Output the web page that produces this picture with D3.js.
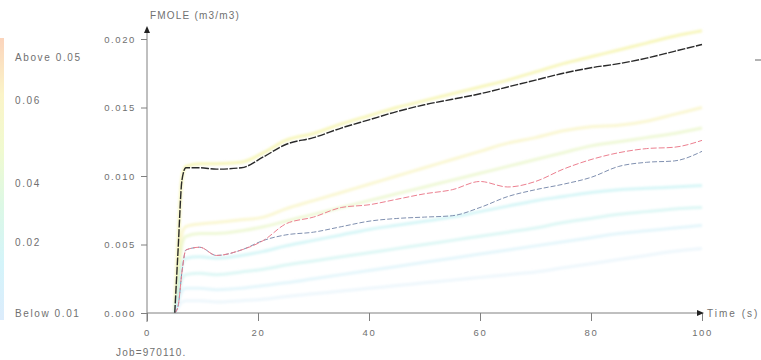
<!DOCTYPE html>
<html>
<head>
<meta charset="utf-8">
<script src="https://cdn.jsdelivr.net/npm/d3@7"></script>
<style>
  body { margin: 0; background: #fff; }
  text { font-family: "Liberation Sans", Arial, sans-serif; fill: #707070; }
</style>
</head>
<body>
<div id="d3-container"></div>
<script>
/* CONSTANTS AND GLOBALS */
const width = 761,
  height = 360,
  margin = { top: 30, bottom: 47, left: 147, right: 59 }

/* DATA */
const times = [5, 5.6, 6.3, 7, 9.5, 12.5, 17, 21, 25, 30, 35, 40, 45, 50, 55, 60, 65, 70, 75, 80, 85, 90, 95, 100];

const fmoleBlack = [0, 0.0046, 0.0097, 0.0106, 0.0106, 0.0105, 0.0106, 0.0114, 0.0123, 0.0128, 0.0135, 0.0141, 0.0147, 0.0152, 0.0156, 0.0160, 0.0165, 0.0170, 0.0175, 0.0179, 0.0182, 0.0186, 0.0191, 0.0196];
const fmoleRed = [0, 0.0005, 0.0030, 0.0046, 0.0048, 0.0042, 0.0046, 0.0053, 0.0065, 0.0070, 0.0077, 0.0079, 0.0083, 0.0087, 0.0090, 0.0096, 0.0092, 0.0096, 0.0105, 0.0112, 0.0117, 0.0120, 0.0121, 0.0126];
const fmoleBlue = [0, 0.0005, 0.0030, 0.0046, 0.0048, 0.0042, 0.0046, 0.0053, 0.0057, 0.0059, 0.0063, 0.0067, 0.0069, 0.0070, 0.0071, 0.0077, 0.0085, 0.0090, 0.0094, 0.0099, 0.0107, 0.0110, 0.0111, 0.0118];

// faint series
const fmoleYellowA = [0, 0.0050, 0.0098, 0.0107, 0.0109, 0.0109, 0.0110, 0.0117, 0.0126, 0.0131, 0.0138, 0.0144, 0.0150, 0.0155, 0.0160, 0.0165, 0.0170, 0.0176, 0.0182, 0.0187, 0.0192, 0.0197, 0.0202, 0.0206];
const fmoleYellowB = [0, 0.0030, 0.0058, 0.0063, 0.0065, 0.0066, 0.0068, 0.0070, 0.0076, 0.0082, 0.0088, 0.0094, 0.0100, 0.0106, 0.0112, 0.0118, 0.0124, 0.0128, 0.0133, 0.0136, 0.0137, 0.0140, 0.0145, 0.0150];
const fmoleGreen = [0, 0.0020, 0.0050, 0.0056, 0.0058, 0.0058, 0.0060, 0.0063, 0.0067, 0.0072, 0.0077, 0.0082, 0.0087, 0.0092, 0.0097, 0.0102, 0.0107, 0.0112, 0.0117, 0.0122, 0.0125, 0.0128, 0.0131, 0.0135];
const fmoleCyanA = [0, 0.0015, 0.0035, 0.0040, 0.0041, 0.0040, 0.0042, 0.0045, 0.0049, 0.0053, 0.0057, 0.0061, 0.0064, 0.0067, 0.0070, 0.0074, 0.0078, 0.0082, 0.0085, 0.0088, 0.0090, 0.0091, 0.0092, 0.0093];
const fmoleCyanB = [0, 0.0010, 0.0025, 0.0028, 0.0029, 0.0028, 0.0030, 0.0032, 0.0035, 0.0038, 0.0041, 0.0044, 0.0047, 0.0050, 0.0053, 0.0056, 0.0059, 0.0062, 0.0066, 0.0069, 0.0072, 0.0074, 0.0076, 0.0077];
const fmoleSkyA = [0, 0.0008, 0.0016, 0.0018, 0.0018, 0.0017, 0.0018, 0.0020, 0.0022, 0.0025, 0.0028, 0.0031, 0.0034, 0.0037, 0.0040, 0.0043, 0.0046, 0.0049, 0.0052, 0.0055, 0.0058, 0.0060, 0.0062, 0.0064];
const fmoleSkyB = [0, 0.0004, 0.0008, 0.0009, 0.0009, 0.0008, 0.0009, 0.0010, 0.0012, 0.0014, 0.0016, 0.0018, 0.0020, 0.0022, 0.0024, 0.0026, 0.0028, 0.0030, 0.0033, 0.0036, 0.0039, 0.0042, 0.0045, 0.0047];

const xTicks = [0, 20, 40, 60, 80, 100];
const yTicks = [0, 0.005, 0.010, 0.015, 0.020];
const legendLabels = ["Above 0.05", "0.06", "0.04", "0.02", "Below 0.01"];
const legendPos = [57, 100, 183, 242, 313];
const barColors = ["#fbd4bc", "#fbf4c8", "#f0fad0", "#dcf8e6", "#d4f4fa", "#dcecfc"];

/* INIT */
const svg = d3.select("#d3-container")
  .append("svg")
  .attr("width", width)
  .attr("height", height);

const x = d3.scaleLinear().domain([0, 100]).range([margin.left, 702]);
const y = d3.scaleLinear().domain([0, 0.020]).range([313, 39]);

// soft blur so the faint lines smear like the scan
const defs = svg.append("defs");
defs.append("filter").attr("id", "soft")
  .attr("x", "-5%").attr("y", "-5%").attr("width", "110%").attr("height", "110%")
  .append("feGaussianBlur").attr("stdDeviation", 1);

const grad = defs.append("linearGradient").attr("id", "bar")
  .attr("x1", 0).attr("y1", 0).attr("x2", 0).attr("y2", 1);
grad.selectAll("stop").data(barColors).join("stop")
  .attr("offset", (d, i) => i / (barColors.length - 1))
  .attr("stop-color", d => d);

// left colour bar
svg.append("rect")
  .attr("x", 0).attr("y", 38).attr("width", 4).attr("height", 282)
  .attr("fill", "url(#bar)");

// legend labels
svg.selectAll("text.legend")
  .data(legendLabels)
  .join("text")
  .attr("class", "legend")
  .attr("x", 15)
  .attr("y", (d, i) => legendPos[i] + 4)
  .attr("font-size", 10)
  .attr("letter-spacing", 1.6)
  .text(d => d);

const line = d3.line()
  .x((d, i) => x(times[i]))
  .y(d => y(d))
  .curve(d3.curveMonotoneX);

const faint = [
  { v: fmoleYellowA, c: "#f2f090", w: 3 },
  { v: fmoleYellowB, c: "#f6f2b4", w: 3 },
  { v: fmoleGreen, c: "#e4f4bc", w: 3 },
  { v: fmoleCyanA, c: "#bcf0f2", w: 3 },
  { v: fmoleCyanB, c: "#c6f2ee", w: 3 },
  { v: fmoleSkyA, c: "#d2f0f8", w: 3 },
  { v: fmoleSkyB, c: "#e2f2fa", w: 3 }
];

svg.append("g").attr("filter", "url(#soft)")
  .selectAll("path")
  .data(faint)
  .join("path")
  .attr("d", d => line(d.v))
  .attr("fill", "none")
  .attr("stroke", d => d.c)
  .attr("stroke-width", d => d.w)
  .attr("opacity", 0.6);

svg.append("path")
  .attr("d", line(fmoleBlue))
  .attr("fill", "none")
  .attr("stroke", "#8090b0")
  .attr("stroke-width", 1)
  .attr("stroke-dasharray", "5,2");

svg.append("path")
  .attr("d", line(fmoleRed))
  .attr("fill", "none")
  .attr("stroke", "#ec8090")
  .attr("stroke-width", 1)
  .attr("stroke-dasharray", "6,2");

svg.append("path")
  .attr("d", line(fmoleBlack))
  .attr("fill", "none")
  .attr("stroke", "#2a2a2a")
  .attr("stroke-width", 1.4)
  .attr("stroke-dasharray", "8,1.5");

// axes
const axisColor = "#808080";
const gx = svg.append("g").attr("transform", `translate(0,313)`)
  .call(d3.axisBottom(x).tickValues(xTicks).tickSize(8).tickPadding(8).tickFormat(d3.format("d")));
const gy = svg.append("g").attr("transform", `translate(${margin.left},0)`)
  .call(d3.axisLeft(y).tickValues(yTicks).tickSize(6).tickPadding(5).tickFormat(d3.format(".3f")));

[gx, gy].forEach(g => {
  g.select(".domain").remove();
  g.selectAll("line").attr("stroke", axisColor);
  g.selectAll("text").attr("font-size", 9.5).attr("letter-spacing", 1.6)
    .attr("fill", "#707070").style("font-family", "'Liberation Sans', Arial, sans-serif");
});

// axis lines with arrowheads
svg.append("line").attr("x1", margin.left).attr("x2", margin.left)
  .attr("y1", 322).attr("y2", 30).attr("stroke", axisColor);
svg.append("line").attr("x1", margin.left).attr("x2", 700)
  .attr("y1", 313).attr("y2", 313).attr("stroke", axisColor);
svg.append("path")
  .attr("d", `M${margin.left - 3},33 L${margin.left},26 L${margin.left + 3},33 Z`)
  .attr("fill", "#222");
svg.append("path")
  .attr("d", `M697,310 L704,313 L697,316 Z`)
  .attr("fill", "#222");

svg.append("text").attr("x", 150).attr("y", 19)
  .attr("font-size", 10).attr("letter-spacing", 1.2)
  .text("FMOLE (m3/m3)");
svg.append("text").attr("x", 707).attr("y", 317)
  .attr("font-size", 10).attr("letter-spacing", 2)
  .text("Time (s)");
svg.append("text").attr("x", 116).attr("y", 356)
  .attr("font-size", 10).attr("letter-spacing", 1.2)
  .text("Job=970110.");

// stray mark at right edge
svg.append("line").attr("x1", 755).attr("x2", 761)
  .attr("y1", 60).attr("y2", 60).attr("stroke", "#666");
</script>
</body>
</html>
